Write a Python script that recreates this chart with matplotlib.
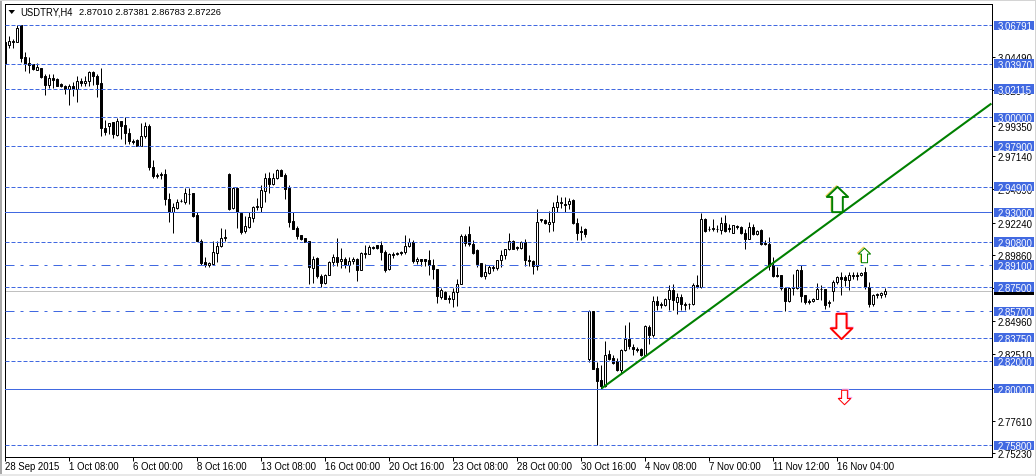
import numpy as np
import matplotlib
matplotlib.use("Agg")
import matplotlib.pyplot as plt
from matplotlib.path import Path
from matplotlib.patches import Rectangle, Polygon

W, H = 1036, 477
plt.rcParams['font.family'] = ['Liberation Sans', 'DejaVu Sans']

opens = [
3.0554,3.0536,3.0556,3.0558,3.0679,3.0443,3.0399,3.0394,3.0352,3.0364,
3.0303,3.0239,3.0295,3.0283,3.0244,3.0236,3.0209,3.0236,3.0209,3.0266,
3.0258,3.0271,3.0339,3.0308,3.0258,2.9919,2.9939,2.9968,2.9872,2.9973,
2.9943,2.9884,2.9830,2.9833,2.9791,2.9860,2.9936,2.9638,2.9565,2.9579,
2.9582,2.9402,2.9304,2.9331,2.9383,2.9378,2.9439,2.9442,2.9279,2.9092,
2.8930,2.8915,2.8920,2.8999,2.9048,2.9112,2.9582,2.9331,2.9483,2.9294,
2.9159,2.9191,2.9260,2.9341,2.9341,2.9459,2.9550,2.9508,2.9550,2.9611,
2.9574,2.9478,2.9235,2.9181,2.9132,2.9112,2.9085,2.8893,2.8962,2.8831,
2.8780,2.8841,2.8930,2.8967,2.8938,2.8958,2.8914,2.8938,2.8958,2.8877,
2.8992,2.8995,2.9047,2.9059,2.9061,2.9007,2.8879,2.8988,2.8992,2.9007,
2.9007,2.9052,2.9081,2.8938,2.8953,2.8953,2.8946,2.8914,2.8884,2.8675,
2.8712,2.8668,2.8658,2.8712,2.8769,2.9125,2.9140,2.9069,2.9020,2.8926,
2.8828,2.8855,2.8897,2.8892,2.8946,2.8988,2.9027,2.9088,2.9044,2.9039,
2.9081,2.8951,2.8941,2.8904,2.9241,2.9246,2.9216,2.9229,2.9339,2.9371,
2.9364,2.9362,2.9389,2.9221,2.9162,2.9175,2.8215,2.8572,2.8151,2.8060,
2.8018,2.8257,2.8225,2.8200,2.8134,2.8282,2.8368,2.8309,2.8294,2.8289,
2.8250,2.8454,2.8392,2.8646,2.8616,2.8614,2.8658,2.8729,2.8638,2.8673,
2.8619,2.8621,2.8621,2.8766,2.8749,2.9253,2.9175,2.9179,2.9179,2.9167,
2.9224,2.9184,2.9150,2.9199,2.9194,2.9150,2.9106,2.9194,2.9138,2.9167,
2.9076,2.9069,2.8909,2.8835,2.8840,2.8744,2.8643,2.8749,2.8744,2.8877,
2.8687,2.8648,2.8643,2.8663,2.8732,2.8732,2.8634,2.8717,2.8786,2.8823,
2.8823,2.8798,2.8830,2.8840,2.8835,2.8860,2.8749,2.8621,2.8697,2.8687,2.87010]

highs = [
3.0566,3.0598,3.0583,3.0679,3.0679,3.0487,3.0450,3.0394,3.0399,3.0364,
3.0320,3.0320,3.0320,3.0288,3.0258,3.0239,3.0246,3.0263,3.0303,3.0295,
3.0303,3.0344,3.0344,3.0320,3.0364,2.9980,2.9963,2.9968,2.9993,2.9975,
3.0000,2.9926,2.9845,2.9845,2.9963,2.9970,2.9951,2.9683,2.9587,2.9597,
2.9619,2.9442,2.9368,2.9402,2.9397,2.9483,2.9483,2.9442,2.9306,2.9107,
2.8967,2.8930,2.9085,2.9085,2.9188,2.9176,2.9594,2.9488,2.9488,2.9294,
2.9274,2.9299,2.9348,2.9405,2.9503,2.9594,2.9601,2.9594,2.9619,2.9619,
2.9594,2.9501,2.9299,2.9200,2.9132,2.9114,2.9085,2.8979,2.8967,2.8844,
2.8844,2.8942,2.8991,2.9109,2.9037,2.8970,2.8970,2.8970,2.8963,2.9007,
2.9056,2.9056,2.9052,2.9061,2.9086,2.9020,2.9000,2.9007,2.9007,2.9012,
2.9135,2.9111,2.9093,2.8970,2.8958,2.8958,2.9024,2.8953,2.8884,2.8742,
2.8717,2.8687,2.8742,2.8810,2.9138,2.9143,2.9199,2.9098,2.9027,2.8926,
2.8921,2.8914,2.8914,2.8951,2.9020,2.9032,2.9150,2.9093,2.9052,2.9086,
2.9106,2.8988,2.8946,2.9327,2.9253,2.9253,2.9307,2.9376,2.9430,2.9413,
2.9413,2.9406,2.9396,2.9258,2.9199,2.9187,2.8577,2.8572,2.8195,2.8176,
2.8350,2.8286,2.8245,2.8225,2.8294,2.8471,2.8491,2.8331,2.8306,2.8299,
2.8471,2.8466,2.8683,2.8683,2.8638,2.8668,2.8766,2.8774,2.8707,2.8700,
2.8638,2.8631,2.8778,2.8840,2.9298,2.9258,2.9199,2.9253,2.9209,2.9266,
2.9278,2.9216,2.9209,2.9209,2.9199,2.9175,2.9229,2.9216,2.9167,2.9175,
2.9093,2.9118,2.8970,2.8897,2.8840,2.8749,2.8749,2.8847,2.8884,2.8909,
2.8692,2.8658,2.8668,2.8778,2.8761,2.8737,2.8656,2.8798,2.8830,2.8860,
2.8840,2.8860,2.8860,2.8860,2.8860,2.8897,2.8786,2.8700,2.8702,2.8712,2.87381]

lows = [
3.0394,3.0512,3.0512,3.0554,3.0413,3.0344,3.0327,3.0352,3.0352,3.0290,
3.0165,3.0221,3.0221,3.0229,3.0224,3.0172,3.0091,3.0155,3.0116,3.0229,
3.0229,3.0229,3.0239,3.0153,2.9860,2.9870,2.9877,2.9852,2.9860,2.9840,
2.9808,2.9803,2.9806,2.9786,2.9791,2.9852,2.9611,2.9550,2.9550,2.9545,
2.9355,2.9230,2.9151,2.9324,2.9378,2.9365,2.9358,2.9262,2.9085,2.8910,
2.8900,2.8900,2.8915,2.8930,2.9041,2.9090,2.9319,2.9328,2.9188,2.9139,
2.9151,2.9186,2.9230,2.9319,2.9304,2.9373,2.9442,2.9503,2.9545,2.9565,
2.9397,2.9193,2.9176,2.9107,2.9097,2.9078,2.8770,2.8782,2.8819,2.8750,
2.8770,2.8836,2.8905,2.8905,2.8889,2.8889,2.8860,2.8921,2.8791,2.8872,
2.8965,2.8990,2.9032,2.9032,2.8946,2.8860,2.8874,2.8965,2.8983,2.8983,
2.8995,2.9044,2.8929,2.8921,2.8904,2.8904,2.8840,2.8806,2.8633,2.8658,
2.8658,2.8633,2.8599,2.8609,2.8769,2.9052,2.9052,2.8990,2.8897,2.8823,
2.8806,2.8847,2.8867,2.8877,2.8897,2.8953,2.9022,2.9027,2.9020,2.9032,
2.8904,2.8904,2.8847,2.8872,2.9229,2.9216,2.9155,2.9160,2.9302,2.9332,
2.9302,2.9327,2.9216,2.9093,2.9093,2.9118,2.8195,2.8141,2.7583,2.7999,
2.8011,2.8213,2.8183,2.8127,2.8117,2.8274,2.8294,2.8245,2.8269,2.8240,
2.8245,2.8331,2.8380,2.8577,2.8594,2.8609,2.8577,2.8577,2.8552,2.8577,
2.8577,2.8584,2.8614,2.8742,2.8742,2.9155,2.9160,2.9160,2.9155,2.9143,
2.9155,2.9155,2.9145,2.9179,2.9143,2.9032,2.9101,2.9130,2.9130,2.9061,
2.9056,2.8872,2.8823,2.8823,2.8724,2.8569,2.8638,2.8687,2.8737,2.8638,
2.8626,2.8626,2.8638,2.8658,2.8651,2.8584,2.8604,2.8643,2.8774,2.8687,
2.8756,2.8724,2.8806,2.8798,2.8830,2.8737,2.8601,2.8609,2.8670,2.8668,2.86783]

closes = [
3.0394,3.0561,3.0561,3.0664,3.0438,3.0394,3.0389,3.0357,3.0369,3.0300,
3.0239,3.0295,3.0278,3.0234,3.0234,3.0212,3.0234,3.0209,3.0266,3.0253,
3.0273,3.0339,3.0303,3.0246,2.9919,2.9894,2.9963,2.9877,2.9975,2.9939,
2.9882,2.9823,2.9820,2.9791,2.9860,2.9934,2.9636,2.9570,2.9577,2.9582,
2.9397,2.9304,2.9336,2.9380,2.9385,2.9442,2.9434,2.9274,2.9090,2.8925,
2.8915,2.8925,2.9004,2.9048,2.9114,2.9117,2.9328,2.9483,2.9299,2.9156,
2.9196,2.9262,2.9343,2.9346,2.9464,2.9550,2.9508,2.9552,2.9611,2.9570,
2.9471,2.9230,2.9176,2.9127,2.9102,2.9082,2.8898,2.8959,2.8831,2.8782,
2.8841,2.8930,2.8967,2.8935,2.8953,2.8914,2.8938,2.8958,2.8877,2.9002,
2.8997,2.9044,2.9037,2.9037,2.9007,2.8877,2.8995,2.8995,2.9000,2.9000,
2.9052,2.9081,2.8938,2.8958,2.8938,2.8943,2.8909,2.8879,2.8683,2.8724,
2.8663,2.8658,2.8712,2.8769,2.9125,2.9076,2.9069,2.9000,2.8921,2.8828,
2.8860,2.8894,2.8889,2.8946,2.8988,2.9032,2.9088,2.9032,2.9037,2.9081,
2.8946,2.8938,2.8904,2.9229,2.9248,2.9219,2.9229,2.9339,2.9376,2.9376,
2.9357,2.9381,2.9221,2.9150,2.9155,2.9138,2.8569,2.8146,2.8053,2.8018,
2.8250,2.8220,2.8191,2.8134,2.8282,2.8368,2.8311,2.8289,2.8284,2.8245,
2.8459,2.8392,2.8646,2.8614,2.8621,2.8663,2.8729,2.8651,2.8673,2.8626,
2.8621,2.8624,2.8766,2.8749,2.9253,2.9160,2.9179,2.9182,2.9175,2.9221,
2.9160,2.9175,2.9204,2.9194,2.9147,2.9106,2.9192,2.9138,2.9160,2.9069,
2.9069,2.8904,2.8830,2.8830,2.8742,2.8643,2.8742,2.8742,2.8877,2.8680,
2.8638,2.8638,2.8663,2.8737,2.8737,2.8614,2.8639,2.8786,2.8823,2.8811,
2.8798,2.8840,2.8835,2.8830,2.8855,2.8747,2.8621,2.8687,2.8687,2.8705,2.87226]

dashed_levels = [3.06791, 3.03970, 3.02115, 3.00000, 2.97900, 2.94900,
                 2.90800, 2.87500, 2.83750, 2.82000, 2.75800]
solid_levels = [2.93000, 2.80000]
dashdot_levels = [2.89100, 2.85700]
bid = 2.87226

price_ticks = [3.04490, 3.02040, 2.99350, 2.97140, 2.94690, 2.92240, 2.89860,
               2.87410, 2.84960, 2.82510, 2.80060, 2.77610, 2.75230]
date_positions = [0, 16, 32, 48, 64, 80, 96, 112, 128, 144, 160, 176, 192, 208]
date_labels = ['28 Sep 2015', '1 Oct 08:00', '6 Oct 00:00', '8 Oct 16:00',
               '13 Oct 08:00', '16 Oct 00:00', '20 Oct 16:00', '23 Oct 08:00',
               '28 Oct 00:00', '30 Oct 16:00', '4 Nov 08:00', '7 Nov 00:00',
               '11 Nov 12:00', '16 Nov 04:00']

trend_x = [149, 246.5]
trend_y = [2.8000, 3.0103]

up_arrows_x = [207.8, 214.75]
up_arrows_y = [2.9401, 2.8982]
down_arrows_x = [208.8, 209.6]
down_arrows_y = [2.8458, 2.7934]

symbol = 'USDTRY,H4'
quote = '2.87010 2.87381 2.86783 2.87226'

BLUE = '#4169E1'
GREEN = '#008000'
FS = 6.9
LW = 0.72
PX_X = 0.25          # one pixel along the bar axis
PX_Y = 1 / 1355      # one pixel along the price axis

fig = plt.figure(figsize=(W / 100, H / 100), dpi=100, facecolor='white')
ax = fig.add_axes([4.5 / W, 1 - 457.5 / H, 987 / W, 453 / H])
ax.set_xlim(-0.225, 246.525)
ax.set_ylim(2.74982, 3.08413)

x = np.arange(len(opens))
o, hi, lo, c = map(np.array, (opens, highs, lows, closes))

ax.axhline(bid, color='#C0C0C0', lw=LW, zorder=1)

wicks = ax.vlines(x, lo, hi, color='black', lw=LW, zorder=2)
wicks.set_snap(True)
up = c >= o
ax.bar(x[up], (c - o)[up], bottom=o[up], width=0.5, facecolor='white',
       edgecolor='black', linewidth=LW, zorder=3)
ax.bar(x[~up], (o - c)[~up], bottom=c[~up], width=0.5, facecolor='black',
       edgecolor='black', linewidth=LW, zorder=3)

for v in dashed_levels:
    ax.axhline(v, color=BLUE, lw=LW, dashes=(4, 2), zorder=4)
for v in solid_levels:
    ax.axhline(v, color=BLUE, lw=LW, zorder=4)
for v in dashdot_levels:
    ax.axhline(v, color=BLUE, lw=LW, dashes=(9, 6, 3, 6), zorder=4)

ax.plot(trend_x, trend_y, color=GREEN, lw=1.5, zorder=5, solid_capstyle='butt')

up_path = Path([(0, 1), (0.84, 0.2), (0.42, 0.2), (0.42, -1), (-0.42, -1),
                (-0.42, 0.2), (-0.84, 0.2), (0, 1)], closed=True)
down_path = Path([(0, -1), (0.86, -0.14), (0.4, -0.14), (0.4, 1), (-0.4, 1),
                  (-0.4, -0.14), (-0.86, -0.14), (0, -1)], closed=True)
sizes = [18.2, 10.4]
edges = [1.4, 0.72]
for xx, yy, s, e in zip(up_arrows_x, up_arrows_y, sizes, edges):
    ax.plot([xx - PX_X], [yy + PX_Y], marker=up_path, ms=s, mfc='none', mec='#E8D050',
            mew=0.9, ls='none', zorder=6)
    ax.plot([xx], [yy], marker=up_path, ms=s, mfc='white', mec=GREEN, mew=e, ls='none', zorder=6)
for xx, yy, s, e in zip(down_arrows_x, down_arrows_y, sizes, edges):
    ax.plot([xx + PX_X], [yy + PX_Y], marker=down_path, ms=s, mfc='none', mec='#F0A8F0',
            mew=0.9, ls='none', zorder=6)
    ax.plot([xx], [yy], marker=down_path, ms=s, mfc='white', mec='#FF0000', mew=e, ls='none', zorder=6)

ax.yaxis.tick_right()
ax.set_yticks(price_ticks)
ax.set_yticklabels(['%.5f' % v for v in price_ticks], fontsize=FS, color='black')
ax.set_xticks(date_positions)
ax.set_xticklabels(date_labels, fontsize=FS, ha='left', color='black')
ax.tick_params(axis='y', length=2.2, width=LW, pad=2, color='black')
ax.tick_params(axis='x', length=2.9, width=LW, pad=0.2, color='black')
for s in ax.spines.values():
    s.set_linewidth(LW)
    s.set_color('black')

# price tags on the right-hand scale
tr = ax.get_yaxis_transform()
tag_x0 = (994 - 4.5) / 987
tag_w = 40 / 987
tag_h = 9.5 / 1355
text_x = (997.5 - 4.5) / 987
tags = [(bid, 'black')] + [(v, BLUE) for v in sorted(dashed_levels + solid_levels + dashdot_levels)]
for v, col in tags:
    ax.add_patch(Rectangle((tag_x0, v - tag_h / 2), tag_w, tag_h, transform=tr,
                           facecolor=col, edgecolor='none', clip_on=False, zorder=10))
    if col != 'black':
        ax.text(text_x, v, '%.5f' % v, transform=tr, color='white', fontsize=FS,
                va='center_baseline', ha='left', clip_on=False, zorder=11)

# terminal window frame
fig.add_artist(Rectangle((0, 0), 2 / W, 1, transform=fig.transFigure, facecolor='#A8A8A8', edgecolor='none'))
fig.add_artist(Rectangle((0, 1 - 2 / H), 1, 2 / H, transform=fig.transFigure, facecolor='#D4D4D4', edgecolor='none'))
fig.add_artist(Rectangle((0, 0), 1, 2 / H, transform=fig.transFigure, facecolor='#E8E8E8', edgecolor='none'))
fig.add_artist(Rectangle((1 - 1 / W, 0), 1 / W, 1, transform=fig.transFigure, facecolor='#D4D4D4', edgecolor='none'))

# symbol header
fig.add_artist(Polygon([(8.5 / W, 1 - 11 / H), (15 / W, 1 - 11 / H), (11.75 / W, 1 - 15 / H)],
                       closed=True, transform=fig.transFigure, facecolor='black', edgecolor='none'))
fig.text(20 / W, 1 - 12.5 / H, symbol, fontsize=6.85, ha='left', va='center', color='black')
fig.text(79.3 / W, 1 - 12.5 / H, quote, fontsize=6.7, ha='left', va='center', color='black')

fig.savefig('out.png', dpi=100, facecolor='white')
